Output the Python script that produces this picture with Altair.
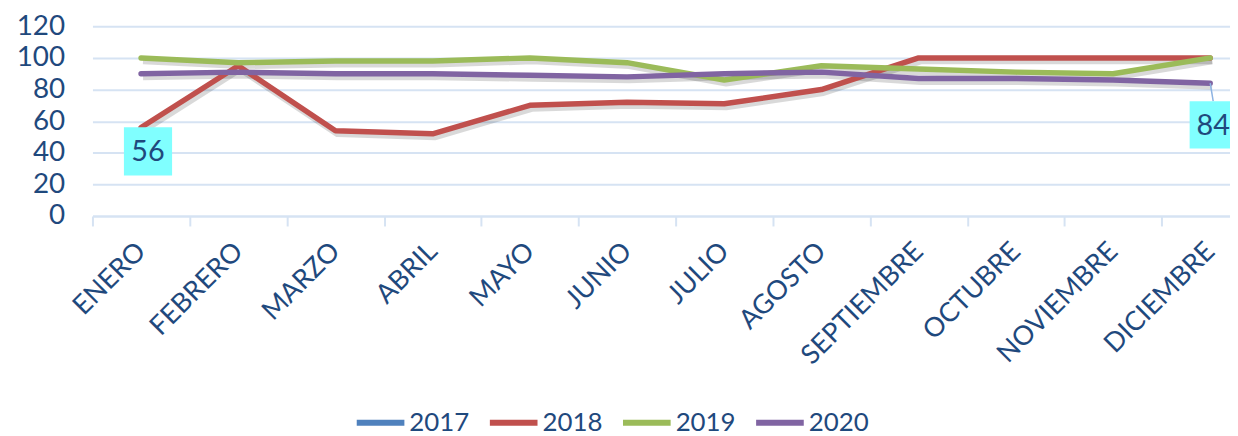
import altair as alt
import pandas as pd

months = ["ENERO", "FEBRERO", "MARZO", "ABRIL", "MAYO", "JUNIO", "JULIO",
          "AGOSTO", "SEPTIEMBRE", "OCTUBRE", "NOVIEMBRE", "DICIEMBRE"]
years = ["2017", "2018", "2019", "2020"]
colors = ["#4F81BD", "#C0504D", "#9BBB59", "#8064A2"]
v2018 = [56, 95, 54, 52, 70, 72, 71, 80, 100, 100, 100, 100]
v2019 = [100, 97, 98, 98, 100, 97, 86, 95, 93, 91, 90, 100]
v2020 = [90, 91, 90, 90, 89, 88, 90, 91, 87, 87, 86, 84]
y_ticks = [0, 20, 40, 60, 80, 100, 120]

TXT = "#1F497D"
GRID = "#D6E3F3"
FONT = "Lato"

rows = []
for yr, vals in (("2018", v2018), ("2019", v2019), ("2020", v2020)):
    for m, v in zip(months, vals):
        rows.append({"mes": m, "anio": yr, "valor": v})
df = pd.DataFrame(rows)

ann1 = pd.DataFrame([{"mes": "ENERO", "anio": "2018", "valor": v2018[0], "lab": str(v2018[0])}])
ann2 = pd.DataFrame([{"mes": "DICIEMBRE", "anio": "2020", "valor": v2020[-1], "lab": str(v2020[-1])}])

xscale = alt.Scale(domain=months, range=[0, 1174], paddingInner=0, paddingOuter=0, round=False)
yscale = alt.Scale(domain=[0, 120])

x_axis = alt.Axis(labelAngle=315, labelAlign="right", labelBaseline="middle",
                  labelFont=FONT, labelFontSize=27, labelColor=TXT,
                  labelPadding=21, tickSize=10, tickBand="extent",
                  tickColor=GRID, tickWidth=2, domainColor=GRID, domainWidth=2,
                  grid=False, labelOverlap=False)
y_axis = alt.Axis(values=y_ticks, labelFont=FONT, labelFontSize=28, labelColor=TXT,
                  labelPadding=28, ticks=False, domain=False,
                  gridColor=GRID, gridWidth=2)
x_enc = alt.X("mes:N", sort=months, scale=xscale, title=None, axis=x_axis)
y_enc = alt.Y("valor:Q", scale=yscale, title=None, axis=y_axis)

color_enc = alt.Color("anio:N", scale=alt.Scale(domain=years, range=colors),
                      legend=alt.Legend(title=None, orient="none", direction="horizontal",
                                        legendX=263, legendY=372,
                                        symbolType="stroke", symbolSize=2300,
                                        symbolStrokeWidth=6, labelFont=FONT,
                                        labelFontSize=26, labelColor=TXT,
                                        labelOffset=2, columnPadding=8))

lines = alt.Chart(df).mark_line(strokeWidth=5.5, strokeJoin="round", strokeCap="round").encode(
    x=x_enc, y=y_enc, color=color_enc)

shadow = alt.Chart(df).mark_line(strokeWidth=7, color="#000000", opacity=0.15,
                                 xOffset=2, yOffset=3, strokeJoin="round").encode(
    x=x_enc, y=y_enc, detail="anio:N")

box1 = alt.Chart(ann1).mark_square(size=2350, color="#80FFFF", opacity=1, filled=True,
                                   xOffset=7, yOffset=24).encode(x=x_enc, y=y_enc)
txt1 = alt.Chart(ann1).mark_text(font=FONT, fontSize=29, color=TXT, xOffset=7, yOffset=25,
                                 baseline="middle", align="center").encode(
    x=x_enc, y=y_enc, text="lab:N")

lead2 = alt.Chart(ann2).mark_rule(color="#8DB3E2", strokeWidth=1.5, y2Offset=18, x2Offset=3).encode(
    x=x_enc, x2=alt.X2("mes:N"), y=y_enc, y2=alt.Y2("valor:Q"))
box2 = alt.Chart(ann2).mark_square(size=2250, color="#80FFFF", opacity=1, filled=True,
                                   xOffset=3, yOffset=42).encode(x=x_enc, y=y_enc)
txt2 = alt.Chart(ann2).mark_text(font=FONT, fontSize=29, color=TXT, xOffset=3, yOffset=43,
                                 baseline="middle", align="center").encode(
    x=x_enc, y=y_enc, text="lab:N")

chart = alt.layer(shadow, lines, box1, txt1, lead2, box2, txt2).properties(
    width=1145, height=191,
    background="white",
    autosize=alt.AutoSizeParams(type="none"),
    padding={"left": 85, "top": 17, "right": 0, "bottom": 220},
).configure_view(stroke=None)

chart.save("out.html", embed_options={"renderer": "svg", "actions": False})
